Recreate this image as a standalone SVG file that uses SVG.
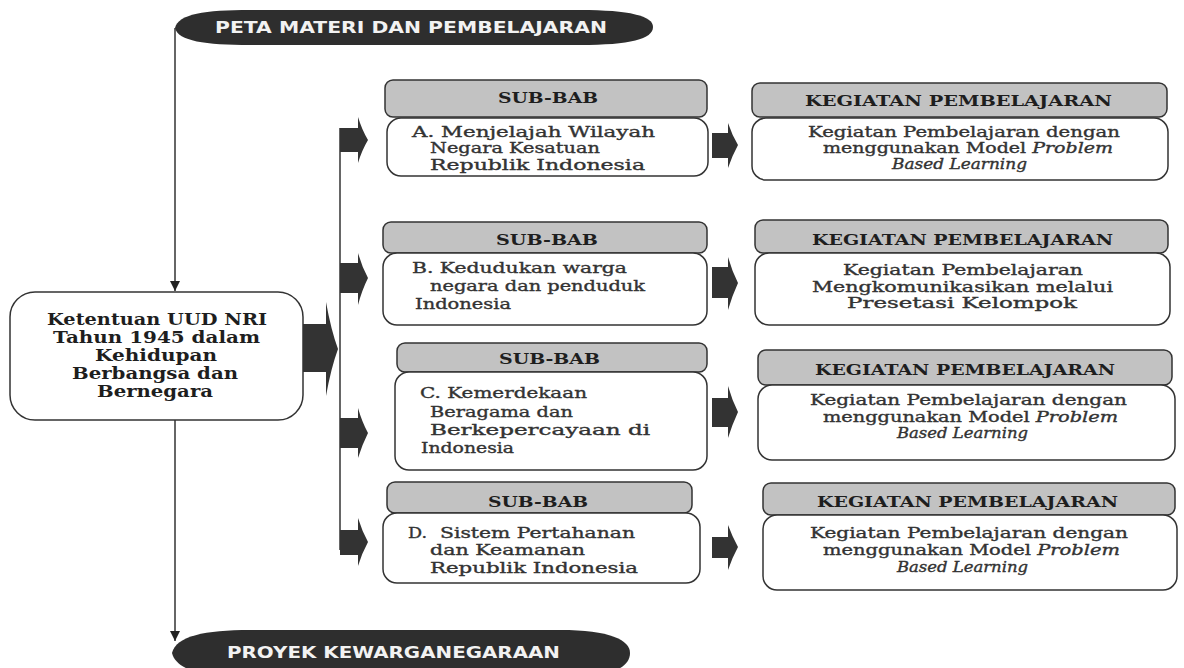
<svg xmlns="http://www.w3.org/2000/svg" width="1184" height="668" viewBox="0 0 1184 668">
<style>
.hdr{fill:#c2c2c2;stroke:#333;stroke-width:1.5}
.box{fill:#fff;stroke:#333;stroke-width:1.5}
.blk{fill:#333}
.line{stroke:#333;stroke-width:1.5;fill:none}
.tb{font-family:"DejaVu Serif","Liberation Serif",serif;font-weight:bold;font-size:15.5px;fill:#1e1e1e}
.tm{font-family:"DejaVu Serif","Liberation Serif",serif;font-weight:bold;font-size:16px;fill:#1e1e1e}
.t{font-family:"DejaVu Serif","Liberation Serif",serif;font-size:14px;fill:#333;stroke:#333;stroke-width:0.35}
.i{font-style:italic}
.pt{font-family:"DejaVu Sans","Liberation Sans",sans-serif;font-weight:bold;font-size:15px;fill:#f2f2f2}
.pill{fill:#2e2e2e}
</style>
<defs>
<marker id="ah" markerWidth="12" markerHeight="10" refX="10" refY="5" orient="auto" markerUnits="userSpaceOnUse">
<path d="M0,0 L10,5 L0,10 Z" fill="#222"/>
</marker>
</defs>

<g id="connectors">
<line class="line" x1="175" y1="28" x2="175" y2="291" marker-end="url(#ah)"/>
<line class="line" x1="175" y1="420" x2="175" y2="641" marker-end="url(#ah)"/>
<line class="line" x1="340" y1="128" x2="340" y2="550"/>
<path class="blk" d="M303,324 H327 V372 H303 Z M326,302 Q331,330 338,349 Q331,368 326,396 Z"/>
<path class="blk" d="M340,128 H359 V152 H340 Z M358,117 Q362,130 368,140 Q362,150 358,163 Z"/>
<path class="blk" d="M340,263 H359 V293 H340 Z M358,253 Q362,267 368,278 Q362,290 358,305 Z"/>
<path class="blk" d="M340,418 H359 V448 H340 Z M358,408 Q362,422 368,433 Q362,445 358,458 Z"/>
<path class="blk" d="M340,530 H359 V555 H340 Z M358,518 Q362,531 368,542 Q362,553 358,566 Z"/>
<path class="blk" d="M712,133 H729 V158 H712 Z M728,123 Q732,135 738,145 Q732,156 728,168 Z"/>
<path class="blk" d="M712,267 H729 V298 H712 Z M728,257 Q732,271 738,283 Q732,296 728,310 Z"/>
<path class="blk" d="M712,398 H729 V427 H712 Z M728,386 Q732,400 738,412 Q732,425 728,438 Z"/>
<path class="blk" d="M712,537 H729 V558 H712 Z M728,525 Q732,536 738,547 Q732,558 728,570 Z"/>
</g>

<g id="top-title">
<path class="pill" d="M175,28 C178,14 205,10 250,10 L580,10 C630,10 653,16 653,27 C653,39 630,45 580,45 L250,45 C205,45 178,41 175,28 Z"/>
<text class="pt" x="215" y="33" textLength="392" lengthAdjust="spacingAndGlyphs">PETA MATERI DAN PEMBELAJARAN</text>
</g>

<g id="main">
<rect class="box" x="10" y="292" width="293" height="128" rx="25"/>
<text class="tm" x="47" y="325" textLength="220" lengthAdjust="spacingAndGlyphs">Ketentuan UUD NRI</text>
<text class="tm" x="53" y="343" textLength="207" lengthAdjust="spacingAndGlyphs">Tahun 1945 dalam</text>
<text class="tm" x="95" y="361" textLength="122" lengthAdjust="spacingAndGlyphs">Kehidupan</text>
<text class="tm" x="72" y="379" textLength="166" lengthAdjust="spacingAndGlyphs">Berbangsa dan</text>
<text class="tm" x="97" y="397" textLength="116" lengthAdjust="spacingAndGlyphs">Bernegara</text>
</g>

<g id="subbab-a">
<rect class="hdr" x="385" y="80" width="322" height="37" rx="8"/>
<rect class="box" x="387" y="118" width="321" height="58" rx="14"/>
<text class="tb" x="498" y="103" textLength="100" lengthAdjust="spacingAndGlyphs">SUB-BAB</text>
<text class="t" x="412" y="137" textLength="243" lengthAdjust="spacingAndGlyphs">A. Menjelajah Wilayah</text>
<text class="t" x="430" y="153" textLength="170" lengthAdjust="spacingAndGlyphs">Negara Kesatuan</text>
<text class="t" x="430" y="170" textLength="215" lengthAdjust="spacingAndGlyphs">Republik Indonesia</text>
</g>

<g id="kegiatan-a">
<rect class="hdr" x="752" y="83" width="415" height="34" rx="8"/>
<rect class="box" x="752" y="118" width="416" height="62" rx="14"/>
<text class="tb" x="805" y="106" textLength="307" lengthAdjust="spacingAndGlyphs">KEGIATAN PEMBELAJARAN</text>
<text class="t" x="808" y="137" textLength="312" lengthAdjust="spacingAndGlyphs">Kegiatan Pembelajaran dengan</text>
<text class="t" x="823" y="153" textLength="290" lengthAdjust="spacingAndGlyphs">menggunakan Model <tspan class="i">Problem</tspan></text>
<text class="t i" x="892" y="169" textLength="135" lengthAdjust="spacingAndGlyphs">Based Learning</text>
</g>

<g id="subbab-b">
<rect class="hdr" x="383" y="222" width="324" height="31" rx="8"/>
<rect class="box" x="383" y="253" width="324" height="72" rx="14"/>
<text class="tb" x="496" y="245" textLength="102" lengthAdjust="spacingAndGlyphs">SUB-BAB</text>
<text class="t" x="412" y="273" textLength="215" lengthAdjust="spacingAndGlyphs">B. Kedudukan warga</text>
<text class="t" x="430" y="291" textLength="215" lengthAdjust="spacingAndGlyphs">negara dan penduduk</text>
<text class="t" x="415" y="309" textLength="96" lengthAdjust="spacingAndGlyphs">Indonesia</text>
</g>

<g id="kegiatan-b">
<rect class="hdr" x="755" y="220" width="413" height="33" rx="8"/>
<rect class="box" x="755" y="253" width="415" height="72" rx="14"/>
<text class="tb" x="812" y="245" textLength="301" lengthAdjust="spacingAndGlyphs">KEGIATAN PEMBELAJARAN</text>
<text class="t" x="843" y="275" textLength="240" lengthAdjust="spacingAndGlyphs">Kegiatan Pembelajaran</text>
<text class="t" x="812" y="292" textLength="301" lengthAdjust="spacingAndGlyphs">Mengkomunikasikan melalui</text>
<text class="t" x="847" y="308" textLength="230" lengthAdjust="spacingAndGlyphs">Presetasi Kelompok</text>
</g>

<g id="subbab-c">
<rect class="hdr" x="397" y="343" width="310" height="29" rx="8"/>
<rect class="box" x="395" y="372" width="312" height="98" rx="14"/>
<text class="tb" x="499" y="364" textLength="101" lengthAdjust="spacingAndGlyphs">SUB-BAB</text>
<text class="t" x="420" y="398" textLength="167" lengthAdjust="spacingAndGlyphs">C. Kemerdekaan</text>
<text class="t" x="430" y="417" textLength="143" lengthAdjust="spacingAndGlyphs">Beragama dan</text>
<text class="t" x="430" y="435" textLength="220" lengthAdjust="spacingAndGlyphs">Berkepercayaan di</text>
<text class="t" x="421" y="453" textLength="93" lengthAdjust="spacingAndGlyphs">Indonesia</text>
</g>

<g id="kegiatan-c">
<rect class="hdr" x="758" y="350" width="414" height="35" rx="8"/>
<rect class="box" x="758" y="385" width="417" height="75" rx="14"/>
<text class="tb" x="815" y="375" textLength="300" lengthAdjust="spacingAndGlyphs">KEGIATAN PEMBELAJARAN</text>
<text class="t" x="810" y="405" textLength="317" lengthAdjust="spacingAndGlyphs">Kegiatan Pembelajaran dengan</text>
<text class="t" x="823" y="422" textLength="295" lengthAdjust="spacingAndGlyphs">menggunakan Model <tspan class="i">Problem</tspan></text>
<text class="t i" x="897" y="438" textLength="131" lengthAdjust="spacingAndGlyphs">Based Learning</text>
</g>

<g id="subbab-d">
<rect class="hdr" x="387" y="482" width="305" height="31" rx="8"/>
<rect class="box" x="383" y="513" width="317" height="70" rx="14"/>
<text class="tb" x="488" y="507" textLength="100" lengthAdjust="spacingAndGlyphs">SUB-BAB</text>
<text class="t" x="408" y="538" textLength="19" lengthAdjust="spacingAndGlyphs">D.</text>
<text class="t" x="440" y="538" textLength="195" lengthAdjust="spacingAndGlyphs">Sistem Pertahanan</text>
<text class="t" x="430" y="555" textLength="155" lengthAdjust="spacingAndGlyphs">dan Keamanan</text>
<text class="t" x="430" y="573" textLength="208" lengthAdjust="spacingAndGlyphs">Republik Indonesia</text>
</g>

<g id="kegiatan-d">
<rect class="hdr" x="763" y="483" width="412" height="32" rx="8"/>
<rect class="box" x="763" y="515" width="414" height="75" rx="14"/>
<text class="tb" x="817" y="507" textLength="301" lengthAdjust="spacingAndGlyphs">KEGIATAN PEMBELAJARAN</text>
<text class="t" x="810" y="538" textLength="318" lengthAdjust="spacingAndGlyphs">Kegiatan Pembelajaran dengan</text>
<text class="t" x="823" y="555" textLength="297" lengthAdjust="spacingAndGlyphs">menggunakan Model <tspan class="i">Problem</tspan></text>
<text class="t i" x="897" y="572" textLength="131" lengthAdjust="spacingAndGlyphs">Based Learning</text>
</g>

<g id="bottom-title">
<path class="pill" d="M172,653 C176,636 205,630 250,630 L560,630 C610,630 630,640 630,653 C630,668 610,678 560,678 L250,678 C205,678 176,670 172,653 Z"/>
<text class="pt" x="227" y="658" textLength="333" lengthAdjust="spacingAndGlyphs">PROYEK KEWARGANEGARAAN</text>
</g>
</svg>
